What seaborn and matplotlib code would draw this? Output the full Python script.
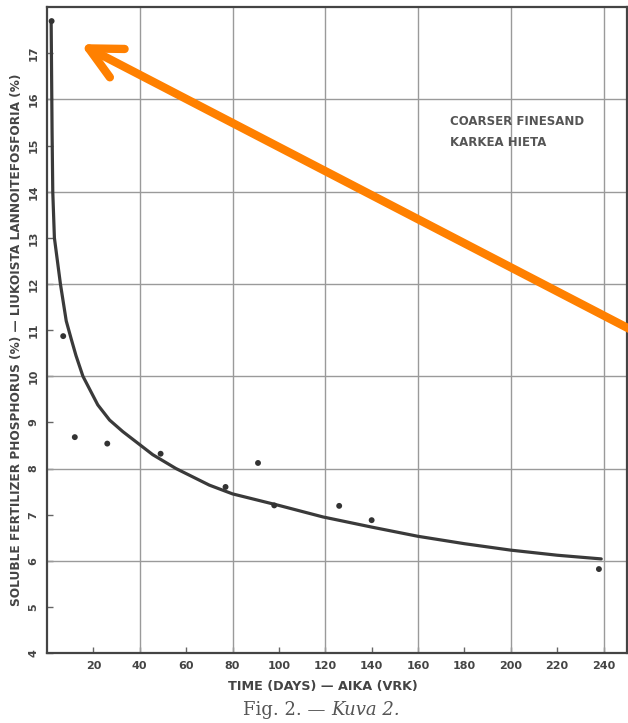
import numpy as np
import pandas as pd
import matplotlib
matplotlib.use("Agg")
import matplotlib.pyplot as plt
import seaborn as sns

# measured points (days, soluble P %)
days = [2, 7, 12, 26, 49, 77, 91, 98, 126, 140, 238]
phosphorus = [17.7, 10.87, 8.68, 8.54, 8.32, 7.6, 8.12, 7.2, 7.19, 6.88, 5.82]

# fitted curve
curve_days = [1.8, 2.0, 2.2, 2.5, 3.2, 5.8, 8.3, 10.5, 12.5, 15.5, 21.9, 27, 32.7, 45.6,
              55.6, 70, 80, 100, 119, 140, 160, 180, 200, 220, 239]
curve_vals = [17.7, 16.5, 15.3, 14.0, 13.0, 12.0, 11.2, 10.8, 10.45, 10.0, 9.38, 9.05,
              8.8, 8.3, 8.0, 7.64, 7.45, 7.2, 6.95, 6.73, 6.53, 6.37, 6.23, 6.12, 6.04]

x_ticks = list(range(20, 241, 20))
y_ticks = list(range(4, 18))
x_grid = list(range(40, 241, 40))
y_grid = list(range(6, 17, 2))

label_text = "COARSER FINESAND\nKARKEA HIETA"
arrow_tip = (14.5, 17.2)
arrow_tail = (256, 10.9)

pts = pd.DataFrame({"days": days, "p": phosphorus})
fit = pd.DataFrame({"days": curve_days, "p": curve_vals})

sns.set_style("ticks")
plt.rcParams["font.family"] = ["DejaVu Sans"]

fig = plt.figure(figsize=(6.28, 7.23), dpi=100)
ax = fig.add_axes([0.0748, 0.0968, 0.998 - 0.0748, 0.990 - 0.0968])

sns.lineplot(data=fit, x="days", y="p", ax=ax, color="#3a3a3a", lw=2.3,
             sort=False, estimator=None)
sns.scatterplot(data=pts, x="days", y="p", ax=ax, color="#333333", s=18,
                edgecolor="none", zorder=5)

ax.set_xlim(0, 250)
ax.set_ylim(4, 18)

# grid sits on labelled positions, so keep the overlapping minor locs
ax.xaxis.remove_overlapping_locs = False
ax.yaxis.remove_overlapping_locs = False
ax.set_xticks(x_ticks)
ax.set_xticklabels([str(v) for v in x_ticks])
ax.set_yticks(y_ticks)
ax.set_yticklabels([str(v) for v in y_ticks], rotation=90, va="center")
ax.set_xticks(x_grid, minor=True)
ax.set_yticks(y_grid, minor=True)
ax.tick_params(which="major", direction="in", length=4, width=1, color="#666666",
               labelsize=8, labelcolor="#444444", pad=6)
ax.tick_params(which="minor", length=0)
for lab in ax.get_xticklabels() + ax.get_yticklabels():
    lab.set_fontweight("bold")
ax.grid(which="major", visible=False)
ax.grid(which="minor", color="#9a9a9a", lw=1.0)

for sp in ax.spines.values():
    sp.set_visible(True)
    sp.set_color("#444444")
    sp.set_linewidth(1.6)

ax.set_xlabel("TIME (DAYS) — AIKA (VRK)", fontsize=9.2, fontweight="bold",
              color="#444444")
ax.xaxis.set_label_coords(0.476, -0.042)
ax.set_ylabel("SOLUBLE FERTILIZER PHOSPHORUS (%) — LIUKOISTA LANNOITEFOSFORIA (%)",
              fontsize=8.7, fontweight="bold", color="#444444")
ax.yaxis.set_label_coords(-0.042, 0.485)

ax.text(174, 15.3, label_text, fontsize=8.5, fontweight="bold", color="#555555",
        va="center", ha="left", linespacing=1.8)

ax.annotate("", xy=arrow_tip, xytext=arrow_tail, annotation_clip=False,
            arrowprops=dict(arrowstyle="->,head_length=2.3,head_width=1.15",
                            mutation_scale=10, lw=6, color="#ff8000",
                            capstyle="round", joinstyle="round",
                            shrinkA=0, shrinkB=0))

fig.text(0.528, 0.006, "Fig. 2. — ", family="DejaVu Serif", fontsize=13,
         color="#555555", ha="right", va="bottom")
fig.text(0.528, 0.006, "Kuva 2.", family="DejaVu Serif", style="italic",
         fontsize=13, color="#555555", ha="left", va="bottom")

fig.savefig("out.png", dpi=100, facecolor="white")
